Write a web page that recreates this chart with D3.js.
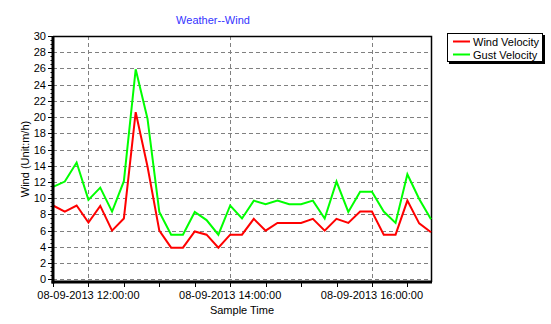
<!DOCTYPE html>
<html>
<head>
<meta charset="utf-8">
<script src="https://cdn.jsdelivr.net/npm/d3@7"></script>
<style>
  html, body { margin: 0; padding: 0; background: #fff; }
  svg { display: block; font-family: "Liberation Sans", Arial, sans-serif; }
</style>
</head>
<body>
<svg id="chart" width="551" height="324"></svg>
<script>
// Samples every 10 minutes, 08-09-2013 11:30 .. 16:50
const startTime = new Date(2013, 7, 9, 11, 30);
const endTime = new Date(2013, 7, 9, 16, 50);
const sampleMinutes = [0,10,20,30,40,50,60,70,80,90,100,110,120,130,140,150,160,170,180,190,200,210,220,230,240,250,260,270,280,290,300,310,320];
const windVelocity = [9.1,8.35,9.1,7.0,9.05,6.0,7.5,20.6,13.9,6.0,3.9,3.9,5.9,5.5,3.9,5.5,5.5,7.45,6.0,6.95,6.95,6.95,7.45,6.0,7.45,6.95,8.35,8.35,5.5,5.5,9.7,6.9,5.8];
const gustVelocity = [11.4,12.05,14.4,9.8,11.3,8.35,12.1,25.9,19.8,8.3,5.5,5.5,8.3,7.3,5.5,9.1,7.5,9.7,9.25,9.7,9.25,9.25,9.7,7.5,12.05,8.3,10.8,10.8,8.35,6.95,12.95,9.9,7.4];
const yTicks = [0,2,4,6,8,10,12,14,16,18,20,22,24,26,28,30];
const xTickLabels = ["08-09-2013 12:00:00", "08-09-2013 14:00:00", "08-09-2013 16:00:00"];
const seriesNames = ["Wind Velocity", "Gust Velocity"];
const seriesColors = ["#ff0000", "#00ff00"];

const svg = d3.select("#chart");
const plotLeft = 53, plotRight = 431, plotTop = 36, plotBottom = 282;

const x = d3.scaleTime().domain([startTime, endTime]).range([plotLeft, plotRight]);
const y = d3.scaleLinear().domain([0, 30]).range([279.3, plotTop]);

const timeAt = m => new Date(startTime.getTime() + m * 60000);
const majorTimes = [12, 14, 16].map(h => new Date(2013, 7, 9, h, 0));
const minorTimes = d3.timeMinute.every(30).range(startTime, d3.timeMinute.offset(endTime, 1));

// Title
svg.append("text").attr("x", 213).attr("y", 24).attr("text-anchor", "middle")
  .attr("font-size", 11).attr("fill", "#3333ff").text("Weather--Wind");

// Grid
const grid = svg.append("g").attr("stroke", "#808080").attr("stroke-dasharray", "4,3").attr("stroke-width", 1);
grid.selectAll("line.h").data(yTicks.slice(0, -1)).join("line")
  .attr("x1", plotLeft).attr("x2", plotRight)
  .attr("y1", d => Math.round(y(d)) + 0.5).attr("y2", d => Math.round(y(d)) + 0.5);
grid.selectAll("line.v").data(majorTimes).join("line")
  .attr("x1", d => Math.round(x(d)) + 0.5).attr("x2", d => Math.round(x(d)) + 0.5)
  .attr("y1", plotTop).attr("y2", plotBottom);

// Frame (top and right)
svg.append("path").attr("d", `M${plotLeft},${plotTop + 0.5}H${plotRight + 0.5}V${plotBottom}`)
  .attr("fill", "none").attr("stroke", "#000").attr("stroke-width", 1.5);

// Series lines
const lineGen = d3.line().x((d, i) => x(timeAt(sampleMinutes[i]))).y(d => y(d));
const plot = svg.append("g");
[windVelocity, gustVelocity].forEach((vals, k) => {
  plot.append("path").datum(vals).attr("d", lineGen)
    .attr("fill", "none").attr("stroke", seriesColors[k]).attr("stroke-width", 2)
    .attr("stroke-linejoin", "miter");
});

// Y axis: thick line, major ticks with labels, minor ticks
const yAxis = svg.append("g");
yAxis.append("line").attr("x1", plotLeft).attr("x2", plotLeft).attr("y1", plotTop).attr("y2", plotBottom + 1.5)
  .attr("stroke", "#000").attr("stroke-width", 3);
yAxis.selectAll("line.minor").data(d3.range(0, 30.01, 0.5)).join("line")
  .attr("x1", plotLeft - 2.5).attr("x2", plotLeft).attr("y1", d => Math.round(y(d)) + 0.5).attr("y2", d => Math.round(y(d)) + 0.5)
  .attr("stroke", "#000").attr("stroke-width", 1);
yAxis.selectAll("line.major").data(yTicks).join("line")
  .attr("x1", plotLeft - 5).attr("x2", plotLeft).attr("y1", d => Math.round(y(d)) + 0.5).attr("y2", d => Math.round(y(d)) + 0.5)
  .attr("stroke", "#000").attr("stroke-width", 1);
yAxis.selectAll("text").data(yTicks).join("text")
  .attr("x", 46).attr("y", d => y(d) + 4).attr("text-anchor", "end")
  .attr("font-size", 11).attr("fill", "#000").text(d => d);

// X axis: thick line, ticks every 30 minutes, labels on the hour
const xAxis = svg.append("g");
xAxis.append("line").attr("x1", plotLeft - 1.5).attr("x2", plotRight + 1).attr("y1", plotBottom).attr("y2", plotBottom)
  .attr("stroke", "#000").attr("stroke-width", 3);
xAxis.selectAll("line.tick").data(minorTimes).join("line")
  .attr("x1", d => Math.round(x(d)) + 0.5).attr("x2", d => Math.round(x(d)) + 0.5)
  .attr("y1", plotBottom).attr("y2", plotBottom + 5)
  .attr("stroke", "#000").attr("stroke-width", 1);
xAxis.selectAll("text").data(majorTimes).join("text")
  .attr("x", d => x(d)).attr("y", 299).attr("text-anchor", "middle")
  .attr("font-size", 11).attr("fill", "#000").text((d, i) => xTickLabels[i]);

// Axis titles
svg.append("text").attr("x", (plotLeft + plotRight) / 2).attr("y", 314).attr("text-anchor", "middle")
  .attr("font-size", 11).attr("fill", "#000").text("Sample Time");
svg.append("text").attr("transform", `translate(29,${(plotTop + plotBottom) / 2}) rotate(-90)`)
  .attr("text-anchor", "middle").attr("font-size", 11).attr("fill", "#000").text("Wind (Unit:m/h)");

// Legend with drop shadow
const lg = svg.append("g").attr("transform", "translate(447,33)");
lg.append("rect").attr("x", 2).attr("y", 2).attr("width", 96).attr("height", 29).attr("fill", "#000");
lg.append("rect").attr("x", 0.5).attr("y", 0.5).attr("width", 95).attr("height", 28)
  .attr("fill", "#fff").attr("stroke", "#000").attr("stroke-width", 1);
seriesNames.forEach((name, k) => {
  const yy = 8.5 + k * 13;
  lg.append("line").attr("x1", 6).attr("x2", 23).attr("y1", yy).attr("y2", yy)
    .attr("stroke", seriesColors[k]).attr("stroke-width", 2);
  lg.append("text").attr("x", 26).attr("y", yy + 4).attr("font-size", 11).attr("fill", "#000").text(name);
});
</script>
</body>
</html>
